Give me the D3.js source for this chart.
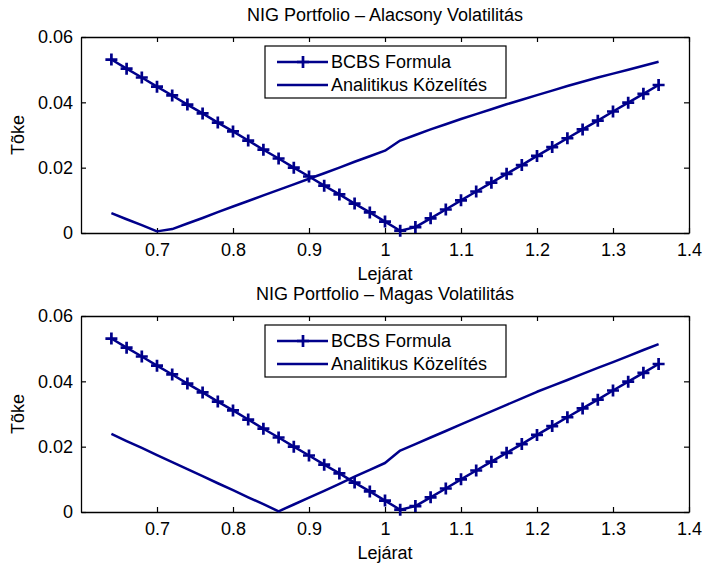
<!DOCTYPE html>
<html>
<head>
<meta charset="utf-8">
<script src="https://cdn.jsdelivr.net/npm/d3@7"></script>
<style>
body { margin: 0; background: #fff; }
svg { font-family: "Liberation Sans", Arial, sans-serif; }
</style>
</head>
<body>
<svg id="chart" width="703" height="565"></svg>
<script>
// maturities (Lejárat)
var maturities = [0.64, 0.66, 0.68, 0.70, 0.72, 0.74, 0.76, 0.78, 0.80, 0.82, 0.84, 0.86, 0.88,
    0.90, 0.92, 0.94, 0.96, 0.98, 1.00, 1.02, 1.04, 1.06, 1.08, 1.10, 1.12, 1.14, 1.16, 1.18,
    1.20, 1.22, 1.24, 1.26, 1.28, 1.30, 1.32, 1.34, 1.36];

// BCBS formula (same in both panels)
var bcbs = [0.0531, 0.0503, 0.0476, 0.0448, 0.0421, 0.0393, 0.0366, 0.0338, 0.0311, 0.0283,
    0.0255, 0.0228, 0.0200, 0.0173, 0.0145, 0.0118, 0.0090, 0.0063, 0.0035, 0.0007, 0.0018,
    0.0045, 0.0072, 0.0100, 0.0127, 0.0154, 0.0181, 0.0208, 0.0236, 0.0263, 0.0290, 0.0317,
    0.0344, 0.0372, 0.0399, 0.0426, 0.0453];

// analytic approximation, low volatility
var analyticLow = [0.0061, 0.0042, 0.0024, 0.0005, 0.0012, 0.0029, 0.0046, 0.0064, 0.0081,
    0.0098, 0.0115, 0.0132, 0.0149, 0.0166, 0.0183, 0.0200, 0.0218, 0.0235, 0.0252, 0.0283,
    0.0300, 0.0317, 0.0333, 0.0349, 0.0364, 0.0379, 0.0394, 0.0408, 0.0422, 0.0436, 0.0450,
    0.0463, 0.0476, 0.0488, 0.0500, 0.0512, 0.0524];

// analytic approximation, high volatility
var analyticHigh = [0.0239, 0.0217, 0.0196, 0.0174, 0.0153, 0.0131, 0.0110, 0.0088, 0.0067,
    0.0045, 0.0024, 0.0002, 0.0023, 0.0044, 0.0065, 0.0086, 0.0108, 0.0129, 0.0150, 0.0188,
    0.0208, 0.0228, 0.0248, 0.0268, 0.0288, 0.0308, 0.0328, 0.0348, 0.0368, 0.0386, 0.0404,
    0.0423, 0.0441, 0.0459, 0.0477, 0.0496, 0.0514];

var xTicks = [0.7, 0.8, 0.9, 1.0, 1.1, 1.2, 1.3, 1.4];
var yTicks = [0, 0.02, 0.04, 0.06];
var titles = ['NIG Portfolio \u2013 Alacsony Volatilit\u00e1s', 'NIG Portfolio \u2013 Magas Volatilit\u00e1s'];
var legendLabels = ['BCBS Formula', 'Analitikus K\u00f6zel\u00edt\u00e9s'];

var svg = d3.select('#chart');
var color = '#00008b';
var fontSize = 18;
var panels = [
    { top: 37, bottom: 233, title: titles[0], analytic: analyticLow },
    { top: 316, bottom: 512, title: titles[1], analytic: analyticHigh }
];
var left = 81, right = 689;

var x = d3.scaleLinear().domain([0.6, 1.4]).range([left, right]);

panels.forEach(function (p) {
    var y = d3.scaleLinear().domain([0, 0.06]).range([p.bottom, p.top]);
    var g = svg.append('g');

    // axes (ticks pointing in, box on)
    g.append('g')
        .attr('transform', 'translate(0,' + p.bottom + ')')
        .call(d3.axisBottom(x).tickValues(xTicks).tickSizeInner(-5).tickSizeOuter(0)
            .tickPadding(10).tickFormat(d3.format('')));
    g.append('g')
        .attr('transform', 'translate(0,' + p.top + ')')
        .call(d3.axisTop(x).tickValues(xTicks).tickSizeInner(-5).tickSizeOuter(0).tickFormat(''));
    g.append('g')
        .attr('transform', 'translate(' + left + ',0)')
        .call(d3.axisLeft(y).tickValues(yTicks).tickSizeInner(-5).tickSizeOuter(0)
            .tickPadding(8).tickFormat(d3.format('')));
    g.append('g')
        .attr('transform', 'translate(' + right + ',0)')
        .call(d3.axisRight(y).tickValues(yTicks).tickSizeInner(-5).tickSizeOuter(0).tickFormat(''));

    g.selectAll('.domain').attr('stroke', '#000').attr('stroke-width', 1.3);
    g.selectAll('.tick line').attr('stroke', '#000').attr('stroke-width', 1.2);
    g.selectAll('.tick text').attr('fill', '#000')
        .style('font-size', fontSize + 'px').style('font-family', '"Liberation Sans", Arial, sans-serif');

    // lines
    var line = d3.line().x(function (d, i) { return x(maturities[i]); }).y(function (d) { return y(d); });

    g.append('path').datum(bcbs)
        .attr('fill', 'none').attr('stroke', color).attr('stroke-width', 2.5)
        .attr('stroke-linejoin', 'round')
        .attr('d', line);

    g.selectAll('.marker').data(bcbs).enter().append('path')
        .attr('class', 'marker')
        .attr('transform', function (d, i) { return 'translate(' + x(maturities[i]) + ',' + y(d) + ')'; })
        .attr('d', 'M-6,0H6M0,-6V6')
        .attr('stroke', color).attr('stroke-width', 2.7);

    g.append('path').datum(p.analytic)
        .attr('fill', 'none').attr('stroke', color).attr('stroke-width', 2.5)
        .attr('stroke-linejoin', 'round')
        .attr('d', line);

    // title and axis labels
    g.append('text')
        .attr('x', (left + right) / 2).attr('y', p.top - 16)
        .attr('text-anchor', 'middle')
        .style('font-size', fontSize + 'px')
        .text(p.title);
    g.append('text')
        .attr('x', (left + right) / 2).attr('y', p.bottom + 47)
        .attr('text-anchor', 'middle')
        .style('font-size', fontSize + 'px')
        .text('Lej\u00e1rat');
    g.append('text')
        .attr('transform', 'translate(24,' + (p.top + p.bottom) / 2 + ') rotate(-90)')
        .attr('text-anchor', 'middle')
        .style('font-size', fontSize + 'px')
        .text('T\u00f5ke');

    // legend
    var lg = g.append('g').attr('transform', 'translate(265,' + (p.top + 9) + ')');
    lg.append('rect').attr('width', 241).attr('height', 52)
        .attr('fill', '#fff').attr('stroke', '#000').attr('stroke-width', 1.2);
    legendLabels.forEach(function (label, i) {
        var ly = 16 + i * 23;
        lg.append('line').attr('x1', 12).attr('x2', 63).attr('y1', ly).attr('y2', ly)
            .attr('stroke', color).attr('stroke-width', 2.5);
        if (i === 0) {
            lg.append('path').attr('transform', 'translate(38,' + ly + ')')
                .attr('d', 'M-6,0H6M0,-6V6').attr('stroke', color).attr('stroke-width', 2.7);
        }
        lg.append('text').attr('x', 66).attr('y', ly + 6)
            .style('font-size', fontSize + 'px')
            .text(label);
    });
});
</script>
</body>
</html>
